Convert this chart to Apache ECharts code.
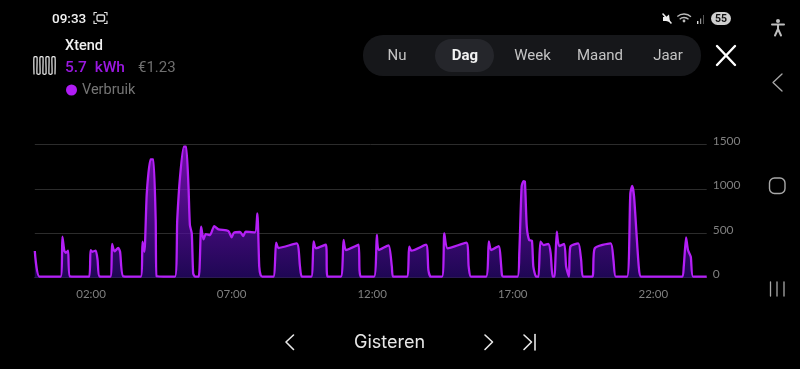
<!DOCTYPE html>
<html>
<head>
<meta charset="utf-8">
<style>html,body{margin:0;padding:0;background:#000}#c{width:800px;height:369px}</style>
<script src="https://cdn.jsdelivr.net/npm/echarts@6/dist/echarts.min.js"></script>
</head>
<body>
<div id="c"></div>
<script>
const seriesName = 'Verbruik';
const minutes = [0,10,55,59,63,66,71,75,116,119,123,130,134,138,161,165,170,178,182,189,226,230,234,239,247,253,258,260,299,304,310,318,323,328,331,335,338,342,350,355,360,365,374,383,392,413,420,425,438,445,450,470,475,479,482,487,509,515,520,559,566,570,590,595,600,621,625,653,659,664,691,693,696,724,730,734,755,762,765,794,799,804,835,840,845,869,874,881,921,926,931,963,969,974,990,997,1000,1030,1034,1039,1043,1046,1050,1055,1061,1064,1070,1075,1079,1086,1096,1101,1105,1109,1114,1119,1130,1134,1140,1143,1160,1166,1170,1190,1195,1229,1235,1240,1264,1271,1275,1279,1289,1294,1381,1385,1390,1394,1400,1405,1434];
const watts = [300,11,11,461,304,280,304,15,11,311,292,304,200,15,11,379,296,334,292,15,11,405,292,949,1331,1331,650,15,11,650,1136,1474,1474,1024,592,499,49,11,11,574,431,491,480,581,544,525,454,506,514,469,517,510,724,124,30,11,11,394,334,386,124,11,11,409,330,371,11,11,424,311,371,86,11,11,480,311,364,124,11,11,349,304,371,86,11,11,499,330,394,124,11,11,409,311,356,30,11,11,274,1024,1087,1080,574,424,416,124,11,11,405,367,379,274,11,11,517,356,379,124,11,349,386,199,11,11,330,386,199,11,11,949,1031,911,124,11,11,124,454,311,236,11,11];
const hourTicks = [120,420,720,1020,1320];
const yTicks = [0,500,1000,1500];
const tabLabels = ['Nu','Dag','Week','Maand','Jaar'];
const deviceName = 'Xtend';
const energyText = '5.7  kWh';
const costText = '€1.23';
const dayLabel = 'Gisteren';

const chart = echarts.init(document.getElementById('c'), null, {renderer:'canvas', width:800, height:369});
const pad = n => String(n).padStart(2,'0');
const txt = (x,y,text,fill,size,font,weight,align) => ({type:'text',x,y,style:{text,fill,fontSize:size,fontFamily:font,fontWeight:weight||400,align:align||'center',verticalAlign:'middle'}});
const pl = (points,stroke,w,smooth) => ({type:'polyline',shape:{points,smooth:smooth||0},style:{stroke,lineWidth:w,fill:null,lineCap:'round',lineJoin:'round'}});
const tabX = [397,465,532.5,600,668];
const heater = [];
for (let i=0;i<8;i++){ heater.push([34+i*3, i%2?57:74],[34+i*3, i%2?74:57]); }

chart.setOption({
  backgroundColor:'#000',
  animation:false,
  grid:{left:34.8,right:93.3,top:144.3,height:133.4,containLabel:false},
  legend:{left:61,top:77.5,icon:'circle',itemWidth:11,itemHeight:11,itemGap:4,
    data:[{name:seriesName,itemStyle:{color:'#b01cf5'}}],
    textStyle:{color:'#757575',fontSize:14.5,fontFamily:'Roboto'}},
  xAxis:{type:'value',min:0,max:1434,splitLine:{show:false},axisTick:{show:false},
    axisLine:{show:true,lineStyle:{color:'#2c2c2c',width:1}},
    axisLabel:{customValues:hourTicks,color:'#7f7f7f',fontSize:11.5,fontFamily:'Lato',margin:11,
      formatter:v=>pad(v/60)+':00'}},
  yAxis:{type:'value',position:'right',min:0,max:1500,interval:500,
    axisLine:{show:false},axisTick:{show:false},
    splitLine:{lineStyle:{color:'#2c2c2c',width:1}},
    axisLabel:{color:'#7f7f7f',fontSize:12,fontFamily:'Lato',margin:6,verticalAlign:'bottom',lineHeight:7,
      formatter:v=>yTicks.includes(v)?String(v):''}},
  series:[{name:seriesName,type:'line',smooth:0.2,showSymbol:false,
    data:minutes.map((m,i)=>[m,watts[i]]),
    lineStyle:{color:'#b41ff6',width:2.3},
    itemStyle:{color:'#b01cf5'},
    areaStyle:{color:{type:'linear',x:0,y:0,x2:0,y2:1,colorStops:[{offset:0,color:'#a015f0'},{offset:1,color:'#2c0a78'}]}}}],
  graphic:[
    txt(52,19.5,'09:33','#f2f2f2',13.5,'Roboto',500,'left'),
    {type:'rect',shape:{x:97,y:15,width:7.5,height:6,r:1.5},style:{fill:null,stroke:'#ddd',lineWidth:1.4}},
    pl([[94,15],[94,12.5],[96.5,12.5]],'#ddd',1.2),pl([[104.5,12.5],[107,12.5],[107,15]],'#ddd',1.2),
    pl([[94,21],[94,23.5],[96.5,23.5]],'#ddd',1.2),pl([[104.5,23.5],[107,23.5],[107,21]],'#ddd',1.2),
    // status right
    pl([[663,14],[671,23]],'#eee',1.6),
    {type:'polygon',shape:{points:[[663,17],[666,17],[669,14.5],[670,22],[666,21],[663,21]]},style:{fill:'#eee'}},
    {type:'arc',shape:{cx:684,cy:24,r:10,startAngle:-2.3,endAngle:-0.8},style:{stroke:'#bbb',lineWidth:1.3,fill:null}},
    {type:'arc',shape:{cx:684,cy:24,r:6.5,startAngle:-2.3,endAngle:-0.8},style:{stroke:'#bbb',lineWidth:1.3,fill:null}},
    {type:'circle',shape:{cx:684,cy:21,r:1.4},style:{fill:'#bbb'}},
    {type:'rect',shape:{x:697,y:21,width:1.4,height:3},style:{fill:'#ddd'}},
    {type:'rect',shape:{x:700,y:18.5,width:1.2,height:5.5},style:{fill:'#999'}},
    {type:'rect',shape:{x:703,y:15,width:1,height:9},style:{fill:'#555'}},
    {type:'rect',shape:{x:711,y:12,width:20,height:13,r:6.5},style:{fill:'#cfcfcf'}},
    txt(721,19.2,'55','#111',10.5,'Roboto',700),
    // header
    pl(heater,'#eeeeee',1.2,0.15),
    txt(65,46.5,deviceName,'#f0f0f0',14.5,'Roboto',500,'left'),
    txt(65,68.5,energyText,'#9a18e0',15.5,'Roboto',500,'left'),
    txt(138,68.5,costText,'#6f6f6f',15,'Roboto',400,'left'),
    // tabs
    {type:'rect',shape:{x:363,y:35,width:338,height:41,r:20},style:{fill:'#16171a'}},
    {type:'rect',shape:{x:435,y:39,width:59,height:33,r:16.5},style:{fill:'#25262b'}},
    ...tabLabels.map((t,i)=>txt(tabX[i],56.5,t,i===1?'#f2f2f2':'#c4c4c4',15,'Roboto',i===1?700:400)),
    pl([[717,46],[735,65]],'#ffffff',2.4),pl([[735,46],[717,65]],'#ffffff',2.4),
    // bottom nav
    pl([[293.5,335],[286,342],[293.5,349.5]],'#e8e8e8',1.6),
    txt(389.5,343,dayLabel,'#e8e8e8',18,'Inter',400),
    pl([[485,335],[492.5,342],[485,349.5]],'#e8e8e8',1.6),
    pl([[524,335],[531.5,342],[524,349.5]],'#e8e8e8',1.6),
    pl([[535,334.5],[535,350]],'#e8e8e8',1.6),
    // side nav
    {type:'circle',shape:{cx:778,cy:21,r:2},style:{fill:'#bdbdbd'}},
    pl([[772,24.5],[784,24.5]],'#bdbdbd',2),
    pl([[778,25],[778,29],[775,35.5]],'#bdbdbd',2),pl([[778,29],[781,35.5]],'#bdbdbd',2),
    pl([[782,74],[773,82.5],[782,91]],'#a8a8a8',1.3),
    {type:'rect',shape:{x:769.5,y:178,width:15.5,height:15.5,r:5},style:{fill:null,stroke:'#a8a8a8',lineWidth:1.4}},
    pl([[770.5,282],[770.5,296]],'#a8a8a8',1.3),pl([[777,282],[777,296]],'#a8a8a8',1.3),pl([[784,282],[784,296]],'#a8a8a8',1.3)
  ]
});
</script>
</body>
</html>
